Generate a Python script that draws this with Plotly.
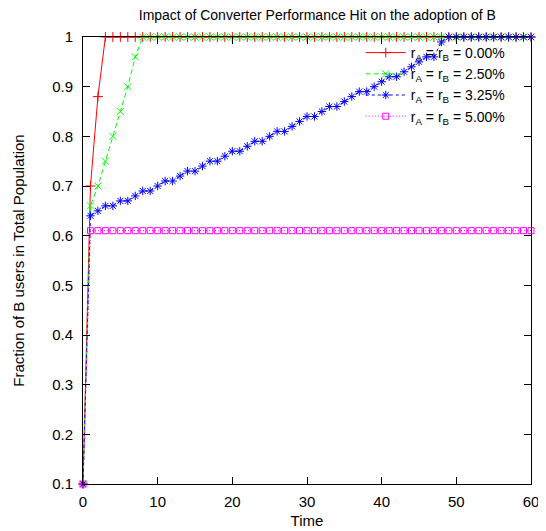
import plotly.graph_objects as go

time = list(range(0, 61))

labels = [
    "r<sub>A</sub> = r<sub>B</sub> = 0.00%",
    "r<sub>A</sub> = r<sub>B</sub> = 2.50%",
    "r<sub>A</sub> = r<sub>B</sub> = 3.25%",
    "r<sub>A</sub> = r<sub>B</sub> = 5.00%",
]

r_000 = [0.10, 0.70, 0.88, 1.00, 1.00, 1.00, 1.00, 1.00, 1.00, 1.00,
         1.00, 1.00, 1.00, 1.00, 1.00, 1.00, 1.00, 1.00, 1.00, 1.00,
         1.00, 1.00, 1.00, 1.00, 1.00, 1.00, 1.00, 1.00, 1.00, 1.00,
         1.00, 1.00, 1.00, 1.00, 1.00, 1.00, 1.00, 1.00, 1.00, 1.00,
         1.00, 1.00, 1.00, 1.00, 1.00, 1.00, 1.00, 1.00, 1.00, 1.00,
         1.00, 1.00, 1.00, 1.00, 1.00, 1.00, 1.00, 1.00, 1.00, 1.00,
         1.00]

r_250 = [0.10, 0.66, 0.70, 0.75, 0.80, 0.85, 0.90, 0.96, 1.00, 1.00,
         1.00, 1.00, 1.00, 1.00, 1.00, 1.00, 1.00, 1.00, 1.00, 1.00,
         1.00, 1.00, 1.00, 1.00, 1.00, 1.00, 1.00, 1.00, 1.00, 1.00,
         1.00, 1.00, 1.00, 1.00, 1.00, 1.00, 1.00, 1.00, 1.00, 1.00,
         1.00, 1.00, 1.00, 1.00, 1.00, 1.00, 1.00, 1.00, 1.00, 1.00,
         1.00, 1.00, 1.00, 1.00, 1.00, 1.00, 1.00, 1.00, 1.00, 1.00,
         1.00]

r_325 = [0.10, 0.64, 0.65, 0.66, 0.66, 0.67, 0.67, 0.68, 0.69, 0.69,
         0.70, 0.71, 0.71, 0.72, 0.73, 0.73, 0.74, 0.75, 0.75, 0.76,
         0.77, 0.77, 0.78, 0.79, 0.79, 0.80, 0.81, 0.81, 0.82, 0.83,
         0.84, 0.84, 0.85, 0.86, 0.86, 0.87, 0.88, 0.89, 0.89, 0.90,
         0.91, 0.92, 0.92, 0.93, 0.94, 0.95, 0.96, 0.96, 0.99, 1.00,
         1.00, 1.00, 1.00, 1.00, 1.00, 1.00, 1.00, 1.00, 1.00, 1.00,
         1.00]

r_500 = [0.10, 0.61, 0.61, 0.61, 0.61, 0.61, 0.61, 0.61, 0.61, 0.61,
         0.61, 0.61, 0.61, 0.61, 0.61, 0.61, 0.61, 0.61, 0.61, 0.61,
         0.61, 0.61, 0.61, 0.61, 0.61, 0.61, 0.61, 0.61, 0.61, 0.61,
         0.61, 0.61, 0.61, 0.61, 0.61, 0.61, 0.61, 0.61, 0.61, 0.61,
         0.61, 0.61, 0.61, 0.61, 0.61, 0.61, 0.61, 0.61, 0.61, 0.61,
         0.61, 0.61, 0.61, 0.61, 0.61, 0.61, 0.61, 0.61, 0.61, 0.61,
         0.61]

x_ticks = [0, 10, 20, 30, 40, 50, 60]
y_ticks = [0.1, 0.2, 0.3, 0.4, 0.5, 0.6, 0.7, 0.8, 0.9, 1.0]
y_tick_text = ["0.1", "0.2", "0.3", "0.4", "0.5", "0.6", "0.7", "0.8", "0.9", "1"]

series = [r_000, r_250, r_325, r_500]
colors = ["#ff0000", "#00ff00", "#0000ff", "#ff00ff"]
dashes = ["solid", "5px,3px", "3px,3px", "1px,2px"]
symbols = ["cross-thin-open", "x-thin-open", "asterisk-open", "square-open"]
msizes = [7, 7, 7, 6]

FONT = "Liberation Sans, Arial, Helvetica, sans-serif"

fig = go.Figure()
for vals, lab, c, d, s, ms in zip(series, labels, colors, dashes, symbols, msizes):
    fig.add_trace(go.Scatter(
        x=time, y=vals, name=lab, mode="lines+markers",
        line=dict(color=c, width=1, dash=d),
        marker=dict(symbol=s, size=ms, color=c, line=dict(color=c, width=1)),
        cliponaxis=False,
    ))

axis_common = dict(
    showline=True, linecolor="black", linewidth=1, mirror="ticks",
    ticks="inside", ticklen=7, tickcolor="black", tickwidth=1,
    showgrid=False, zeroline=False, automargin=False,
    tickfont=dict(family=FONT, size=15, color="black"),
)

# the page body has an 8px margin, so the figure is sized to fit inside it
fig.update_layout(
    width=538, height=523,
    margin=dict(l=75, r=15, t=29, b=47),
    paper_bgcolor="white", plot_bgcolor="white",
    font=dict(family=FONT, size=15, color="black"),
    title=dict(text="Impact of Converter Performance Hit on the adoption of B",
               x=0.575, xanchor="center", y=0.995, yanchor="top",
               pad=dict(t=0, b=0, l=0, r=0),
               font=dict(family=FONT, size=14, color="black")),
    xaxis=dict(range=[0, 60], tickvals=x_ticks, ticklabelstandoff=4,
               title=dict(text="Time", standoff=6, font=dict(family=FONT, size=15)),
               **axis_common),
    yaxis=dict(range=[0.1, 1.0], tickvals=y_ticks, ticktext=y_tick_text, ticklabelstandoff=6,
               title=dict(text="Fraction of B users in Total Population", standoff=23,
                          font=dict(family=FONT, size=15)),
               **axis_common),
    legend=dict(x=0.62, y=1.0, xanchor="left", yanchor="top",
                bgcolor="rgba(0,0,0,0)", borderwidth=0,
                font=dict(family=FONT, size=14, color="black"),
                tracegroupgap=0, itemwidth=40),
    showlegend=True,
)

fig.write_html("out.html")
